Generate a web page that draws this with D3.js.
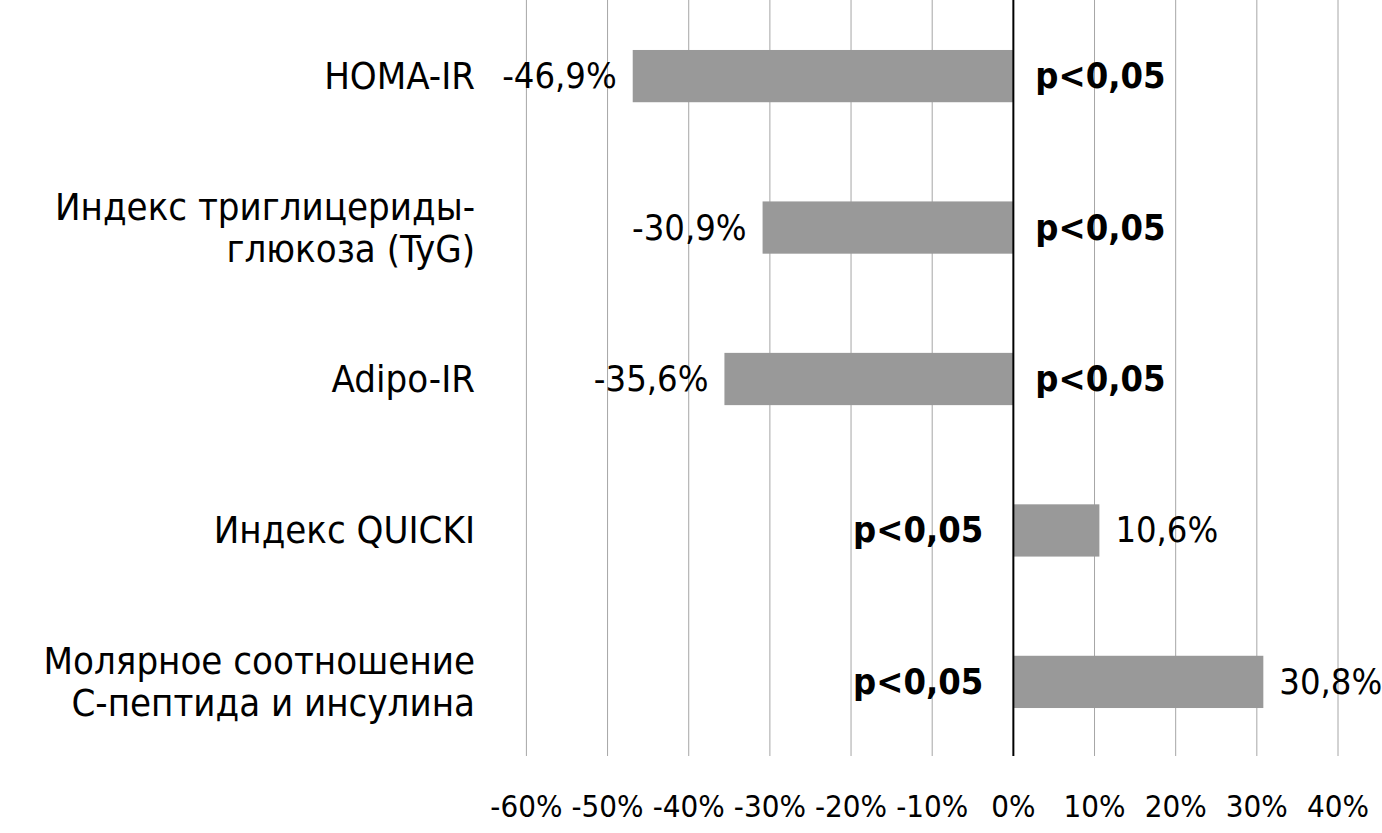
<!DOCTYPE html>
<html><head><meta charset="utf-8">
<script src="https://cdn.jsdelivr.net/npm/d3@7"></script>
<style>body{margin:0;background:#fff}text{font-family:"Liberation Sans Narrow","DejaVu Sans Condensed",sans-serif}</style>
</head><body><div id="chart"></div>
<script>
const categories = [["HOMA-IR"], ["Индекс триглицериды-", "глюкоза (TyG)"], ["Adipo-IR"], ["Индекс QUICKI"], ["Молярное соотношение", "С-пептида и инсулина"]];
const values = [-46.9, -30.9, -35.6, 10.6, 30.8];
const pLabels = ["p<0,05", "p<0,05", "p<0,05", "p<0,05", "p<0,05"];
const ticks = [-60, -50, -40, -30, -20, -10, 0, 10, 20, 30, 40];

const width = 1382, height = 833;
const svg = d3.select("#chart").append("svg").attr("width", width).attr("height", height);
const x = d3.scaleLinear().domain([-60, 40]).range([526.4, 1338]);
const y = d3.scaleBand().domain(d3.range(values.length)).range([0, 758]).paddingInner(0.655).paddingOuter(0.33);
const fmt = v => String(v).replace(".", ",") + "%";

// сетка
svg.selectAll(".grid").data(ticks.filter(t => t !== 0)).enter().append("line")
  .attr("x1", d => x(d)).attr("x2", d => x(d)).attr("y1", 0).attr("y2", 756)
  .attr("stroke", "#a6a6a6").attr("stroke-width", 1);

svg.selectAll(".tick").data(ticks).enter().append("text")
  .attr("x", d => x(d)).attr("y", 817).attr("text-anchor", "middle")
  .attr("font-size", 31).text(d => d + "%");

svg.selectAll(".bar").data(values).enter().append("rect")
  .attr("x", d => x(Math.min(0, d))).attr("width", d => Math.abs(x(d) - x(0)))
  .attr("y", (d, i) => y(i)).attr("height", y.bandwidth()).attr("fill", "#999999");

svg.append("line").attr("x1", x(0)).attr("x2", x(0)).attr("y1", 0).attr("y2", 756)
  .attr("stroke", "#000").attr("stroke-width", 2);

const cy = i => y(i) + y.bandwidth() / 2;

svg.selectAll(".val").data(values).enter().append("text")
  .attr("x", d => d < 0 ? x(d) - 16 : x(d) + 16)
  .attr("y", (d, i) => cy(i) + 12)
  .attr("text-anchor", d => d < 0 ? "end" : "start")
  .attr("font-size", 36).text(fmt);

svg.selectAll(".p").data(values).enter().append("text")
  .attr("x", d => d < 0 ? x(0) + 22 : x(0) - 30)
  .attr("y", (d, i) => cy(i) + 12)
  .attr("text-anchor", d => d < 0 ? "start" : "end")
  .attr("font-size", 36).attr("font-weight", "bold").text((d, i) => pLabels[i]);

categories.forEach((lines, i) => {
  const t = svg.append("text").attr("x", 475).attr("text-anchor", "end").attr("font-size", 38);
  const y0 = cy(i) + 13 - (lines.length - 1) * 21;
  lines.forEach((l, j) => t.append("tspan").attr("x", 475).attr("y", y0 + j * 42).text(l));
});
</script></body></html>
